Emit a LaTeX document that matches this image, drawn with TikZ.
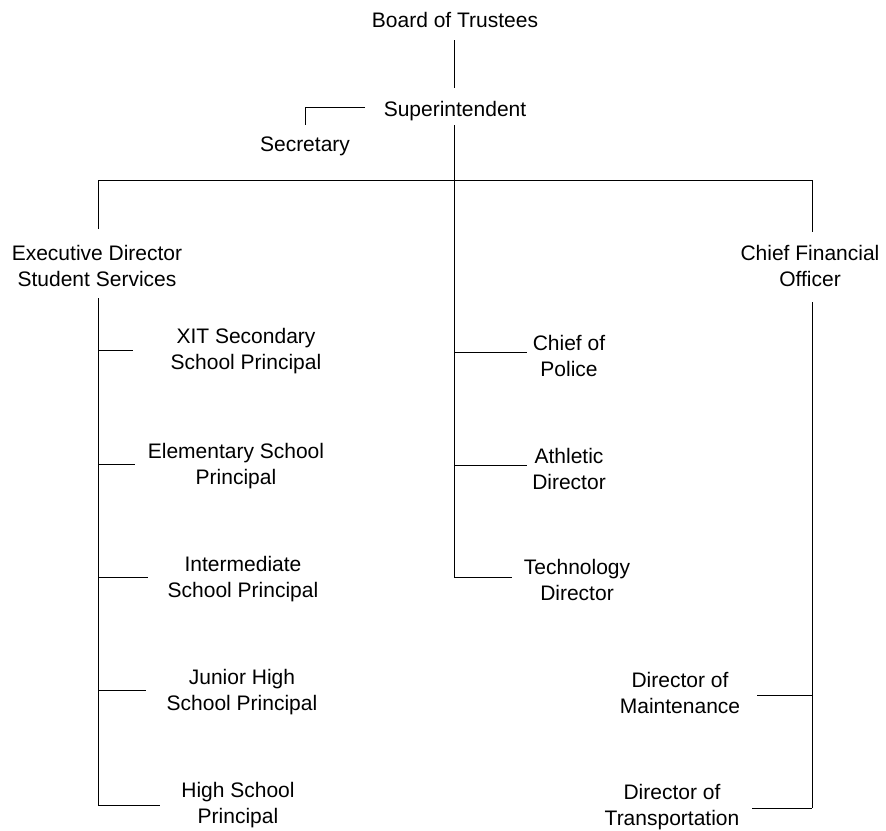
\documentclass[tikz,border=0pt]{standalone}
\usepackage{fontspec}
\setmainfont{Liberation Sans}
\begin{document}
\begin{tikzpicture}[x=1pt,y=-1pt,
  lbl/.style={font=\fontsize{21}{26.5}\selectfont, align=center, inner sep=0pt},
  conn/.style={line width=1pt, black}]
\useasboundingbox (0,0) rectangle (886,830);
% nodes
\node[lbl] (board) at (455,20) {Board of Trustees};
\node[lbl] (sup) at (455,111) {Superintendent};
\node[lbl] (sec) at (305,146) {Secretary};
\node[lbl] (eds) at (97,266) {Executive Director\\Student Services};
\node[lbl] (cfo) at (810,266) {Chief Financial\\Officer};
\node[lbl] (xit) at (246,351) {XIT Secondary\\School Principal};
\node[lbl] (elem) at (236,466) {Elementary School\\Principal};
\node[lbl] (inter) at (243,579) {Intermediate\\School Principal};
\node[lbl] (jr) at (242,692) {Junior High\\School Principal};
\node[lbl] (hs) at (238,805) {High School\\Principal};
\node[lbl] (pol) at (569,356) {Chief of\\Police};
\node[lbl] (ath) at (569,469) {Athletic\\Director};
\node[lbl] (tech) at (577,580) {Technology\\Director};
\node[lbl] (maint) at (680,693) {Director of\\Maintenance};
\node[lbl] (trans) at (672,807) {Director of\\Transportation};
% junction coordinates
\coordinate (b1) at (454,40);
\coordinate (s1) at (454,88);
\coordinate (s2) at (454,125);
\coordinate (top) at (454,180);
\coordinate (secA) at (365,107);
\coordinate (secB) at (305,107);
\coordinate (secC) at (305,125);
\coordinate (L0) at (98,180);
\coordinate (L1) at (98,229);
\coordinate (L2) at (98,298);
\coordinate (R0) at (812,180);
\coordinate (R1) at (812,232);
\coordinate (R2) at (812,302);
% connectors
\draw[conn] (b1) -- (s1);
\draw[conn] (secA) -- (secB) -- (secC);
\draw[conn] (L1) -- (L0) -- (R0) -- (R1);
\draw[conn] (s2) -- (454,577);
\draw[conn] (L2) -- (98,805);
\draw[conn] (R2) -- (812,808);
% left branches
\draw[conn] (98,350) -- (133,350);
\draw[conn] (98,464) -- (135,464);
\draw[conn] (98,577) -- (148,577);
\draw[conn] (98,690) -- (146,690);
\draw[conn] (98,805) -- (160,805);
% middle branches
\draw[conn] (454,352) -- (527,352);
\draw[conn] (454,465) -- (527,465);
\draw[conn] (454,577) -- (512,577);
% right branches
\draw[conn] (757,695) -- (812,695);
\draw[conn] (752,808) -- (812,808);
\end{tikzpicture}
\end{document}
